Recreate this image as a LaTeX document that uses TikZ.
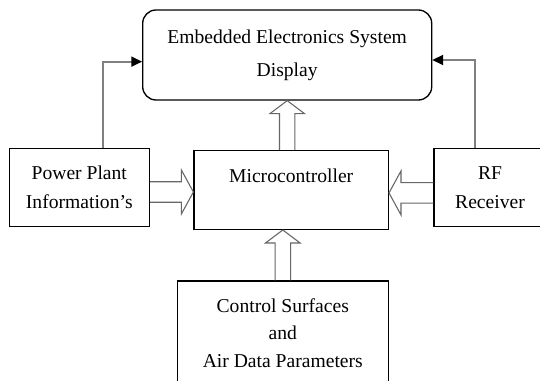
\documentclass[tikz,border=0pt]{standalone}
\usepackage{fontspec}
\setmainfont{Liberation Serif}
\usetikzlibrary{arrows.meta,calc}

\tikzset{
  box/.style={draw, line width=1pt, inner sep=0pt, align=center,
    font=\fontsize{14.7}{21.5}\selectfont},
  link/.style={black!50, line width=1.3pt,
    -{Triangle[length=8pt, width=7.5pt, black]}},
  fat/.style n args={3}{draw=black!60, line width=0.8pt, to path={
    ($(\tikztostart)!#1!90:(\tikztotarget)$)
    -- ($(\tikztotarget)!#3!(\tikztostart)!#1!-90:(\tikztostart)$)
    -- ($(\tikztotarget)!#3!(\tikztostart)!#2!-90:(\tikztostart)$)
    -- (\tikztotarget)
    -- ($(\tikztotarget)!#3!(\tikztostart)!#2!90:(\tikztostart)$)
    -- ($(\tikztotarget)!#3!(\tikztostart)!#1!90:(\tikztostart)$)
    -- ($(\tikztostart)!#1!-90:(\tikztotarget)$)}},
  fatV/.style={fat={5.8pt}{13pt}{9.75pt}},
  fatH/.style={fat={7.7pt}{16.5pt}{9pt}}
}

\begin{document}
\begin{tikzpicture}[x=0.75pt, y=-0.75pt]
\clip (0,0) rectangle (540,381);
% blocks
\node[box, rounded corners=10pt, minimum width=216.75pt, minimum height=67.5pt,
  font=\fontsize{14.7}{25}\selectfont] (disp) at (287.2,55)
  {Embedded Electronics System\\Display};
\node[box, minimum width=105pt, minimum height=58.8pt] (pp) at (79.3,187.5)
  {Power Plant\\Information's};
\node[box, minimum width=145.7pt, minimum height=59pt] (mcu) at (291.2,190)
  {Microcontroller\\~};
\node[box, minimum width=84pt, minimum height=58.8pt] (rf) at (490,187.5)
  {RF\\Receiver};
\node[box, minimum width=158.25pt, minimum height=78pt,
  font=\fontsize{14.7}{20.5}\selectfont] (ctrl) at (282.8,333)
  {Control Surfaces\\and\\Air Data Parameters};
% feedback lines to the display
\draw[link] ([xshift=17.5pt]pp.north) |- ([yshift=-5pt]disp.west);
\draw[link] ([xshift=-11.25pt]rf.north) |- ([yshift=-3.75pt]disp.east);
% hollow arrows
\coordinate (up1) at (disp.south |- mcu.north);
\draw[fatV] (up1) to (disp.south);
\coordinate (up2) at (ctrl.north |- mcu.south);
\draw[fatV] (ctrl.north) to (up2);
\coordinate (inL) at ([yshift=-1.5pt]mcu.west);
\coordinate (outL) at (pp.east |- inL);
\draw[fatH] (outL) to (inL);
\coordinate (inR) at ([yshift=-2.2pt]mcu.east);
\coordinate (outR) at (rf.west |- inR);
\draw[fatH] (outR) to (inR);
\end{tikzpicture}
\end{document}
